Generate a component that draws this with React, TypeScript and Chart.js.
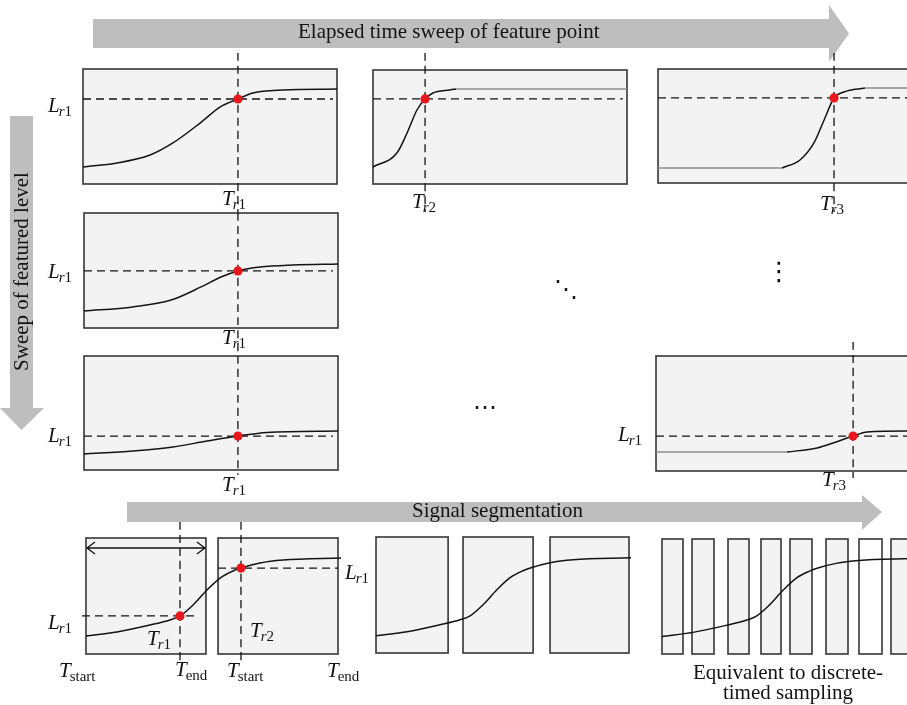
import React, { useEffect, useRef } from "react";
import { Chart, registerables } from "chart.js";
Chart.register(...registerables);

const FONT = '"Liberation Serif", "Times New Roman", Times, serif';
const INK = "#141414";
const GREY_LINE = "#8e8e8e";
const RED = "#e8171d";
const PANEL_FILL = "#f2f3f2";
const PANEL_EDGE = "#363636";
const ARROW_FILL = "#bebebe";

// ================= DATA (time / level in % of each panel frame) =================
// Row 1 — elapsed-time sweep
const P1_T = [0, 13.4, 26.4, 35.4, 46.1, 53.9, 61, 66.9, 78.7, 100];
const P1_L = [14.8, 18.3, 25.2, 35.7, 53.0, 66.9, 73.9, 79.1, 81.7, 82.6];
const P1_MARK = [61, 73.9];

const P2_T = [0, 9.4, 13.4, 17.3, 20.5, 23.6, 30.3, 32.7];
const P2_L = [14.9, 27.2, 44.7, 64.9, 74.6, 79.8, 82.5, 83.3];
const P2_GREY_T = [32.7, 100];
const P2_GREY_L = [83.3, 83.3];
const P2_MARK = [20.5, 74.6];

const P3_GREY_LO_T = [0, 48.8];
const P3_GREY_LO_L = [13.2, 13.2];
const P3_T = [48.8, 55.9, 61.4, 65.4, 69.3, 73.2, 81.5];
const P3_L = [13.2, 20.2, 35.1, 55.3, 74.6, 79.8, 83.3];
const P3_GREY_HI_T = [81.5, 100];
const P3_GREY_HI_L = [83.3, 83.3];
const P3_MARK = [69.3, 74.6];

// Column 1 — featured-level sweep
const P4_T = [0, 19.3, 34.3, 46.1, 53.9, 60.6, 69.3, 82.3, 100];
const P4_L = [14.8, 18.3, 24.3, 35.7, 44.3, 49.6, 53.0, 54.8, 55.7];
const P4_MARK = [60.6, 49.6];

const P5_T = [0, 19.3, 35, 48.4, 60.6, 72, 100];
const P5_L = [14.0, 16.7, 20.2, 25.4, 29.8, 33.0, 34.2];
const P5_MARK = [60.6, 29.8];

const P6_GREY_T = [0, 51.6];
const P6_GREY_L = [16.5, 16.5];
const P6_T = [51.6, 63.4, 69.7, 77.6, 83.1, 98.8, 100];
const P6_L = [16.5, 20, 24.3, 30.4, 33.9, 34.8, 34.8];
const P6_MARK = [77.6, 30.4];

// Row 4 — signal segmentation
const SEG_T = [0, 12.3, 25.4, 33.3, 37.3, 42.5, 48, 53.2, 58.3, 61.5, 69, 78.2, 101.2];
const SEG_L = [15.5, 19, 25, 29.3, 32.8, 42.2, 55.2, 65.5, 71.6, 74.1, 78.4, 81, 82.8];
const SEG_WINDOWS = [[0, 47.6], [52.4, 100]];
const SEG_MARK_1 = [37.3, 32.8];
const SEG_MARK_2 = [61.5, 74.1];

const THREE_T = [0, 12.3, 25.3, 33.2, 37.2, 42.3, 47.8, 53, 58.1, 61.3, 68.8, 77.9, 100.8];
const THREE_L = [14.9, 18.3, 24.3, 28.6, 32.1, 41.6, 54.5, 64.9, 70.9, 73.5, 77.8, 80.4, 82.1];
const THREE_WINDOWS = [[0, 28.5], [34.4, 62.1], [68.8, 100]];

const DISC_T = [0, 12.4, 25.6, 33.6, 37.6, 42.8, 48.4, 53.6, 58.8, 62, 69.6, 78.8, 100];
const DISC_L = [15.2, 18.8, 24.9, 29.3, 32.7, 42.3, 55.4, 65.8, 71.9, 74.5, 78.8, 81.4, 83.0];
const DISC_WINDOWS = [[0, 8.4], [12, 20.8], [26.4, 34.8], [39.6, 47.6], [51.2, 60], [65.6, 74.4], [78.8, 88], [91.6, 100]];
const DISC_WHITE = [6];

// Text
const TITLE_TOP = "Elapsed time sweep of feature point";
const TITLE_LEFT = "Sweep of featured level";
const TITLE_BOTTOM = "Signal segmentation";
const NOTE_LINES = ["Equivalent to discrete-", "timed sampling"];

// ================= LAYOUT (page pixels) =================
const W = 907;
const H = 705;
const FR = {
  p1: [83, 69, 254, 115],
  p2: [373, 70, 254, 114],
  p3: [658, 69, 254, 114],
  p4: [84, 213, 254, 115],
  p5: [84, 356, 254, 114],
  p6: [656, 356, 254, 115],
  seg: [86, 538, 252, 116],
  three: [376, 537, 253, 116],
  disc: [662, 539, 250, 115],
};
const ARROWS = [
  { dir: "h", a0: 93, a1: 829, b0: 19, b1: 48, h0: 5, h1: 62, tip: 849 },
  { dir: "h", a0: 127, a1: 862, b0: 502, b1: 522, h0: 495, h1: 530, tip: 882 },
  { dir: "v", a0: 116, a1: 408, b0: 10, b1: 33, h0: 0, h1: 44, tip: 430 },
];

type Series = { t: number[]; l: number[]; style: "ink" | "grey" | "dash" };
type Cfg = {
  frame: number[];
  pad: number[];
  windows: number[][];
  white?: number[];
  series: Series[];
  dots: number[][];
  span?: number[];
};

const vline = (t: number, top: number, bot: number): Series => ({ t: [t, t], l: [top, bot], style: "dash" });
const hline = (l: number, a: number, b: number): Series => ({ t: [a, b], l: [l, l], style: "dash" });
const ink = (t: number[], l: number[]): Series => ({ t, l, style: "ink" });
const grey = (t: number[], l: number[]): Series => ({ t, l, style: "grey" });

const PAD = [10, 20, 10, 34];
const FULL = [[0, 100]];

const PANELS: Cfg[] = [
  {
    frame: FR.p1, pad: PAD, windows: FULL, dots: [P1_MARK],
    series: [ink(P1_T, P1_L), vline(P1_MARK[0], 114, -25.2), hline(P1_MARK[1], 0, 98.4)],
  },
  {
    frame: FR.p2, pad: PAD, windows: FULL, dots: [P2_MARK],
    series: [ink(P2_T, P2_L), grey(P2_GREY_T, P2_GREY_L), vline(P2_MARK[0], 114.9, -24.6), hline(P2_MARK[1], 0, 98.4)],
  },
  {
    frame: FR.p3, pad: PAD, windows: FULL, dots: [P3_MARK],
    series: [grey(P3_GREY_LO_T, P3_GREY_LO_L), ink(P3_T, P3_L), grey(P3_GREY_HI_T, P3_GREY_HI_L), vline(P3_MARK[0], 114, -25.4), hline(P3_MARK[1], 0, 100)],
  },
  {
    frame: FR.p4, pad: PAD, windows: FULL, dots: [P4_MARK],
    series: [ink(P4_T, P4_L), vline(P4_MARK[0], 100, -24.3), hline(P4_MARK[1], 0, 98)],
  },
  {
    frame: FR.p5, pad: PAD, windows: FULL, dots: [P5_MARK],
    series: [ink(P5_T, P5_L), vline(P5_MARK[0], 100, -4.4), hline(P5_MARK[1], 0, 98)],
  },
  {
    frame: FR.p6, pad: PAD, windows: FULL, dots: [P6_MARK],
    series: [grey(P6_GREY_T, P6_GREY_L), ink(P6_T, P6_L), vline(P6_MARK[0], 112.2, -6.1), hline(P6_MARK[1], 0, 100)],
  },
  {
    frame: FR.seg, pad: [12, 20, 12, 16], windows: SEG_WINDOWS, dots: [SEG_MARK_1, SEG_MARK_2],
    series: [
      ink(SEG_T, SEG_L),
      vline(SEG_MARK_1[0], 113.8, -9.5),
      vline(SEG_MARK_2[0], 113.8, -9.5),
      hline(SEG_MARK_1[1], -1.6, 44),
      hline(SEG_MARK_2[1], SEG_WINDOWS[1][0], 100),
    ],
    span: [0.4, 47.2, 91.4],
  },
  { frame: FR.three, pad: [6, 6, 6, 6], windows: THREE_WINDOWS, dots: [], series: [ink(THREE_T, THREE_L)] },
  { frame: FR.disc, pad: [6, 6, 6, 6], windows: DISC_WINDOWS, white: DISC_WHITE, dots: [], series: [ink(DISC_T, DISC_L)] },
];

function Panel({ cfg }: { cfg: Cfg }) {
  const ref = useRef<HTMLCanvasElement>(null);
  const [x, y, w, h] = cfg.frame;
  const [pl, pt, pr, pb] = cfg.pad;
  useEffect(() => {
    if (!ref.current) return;
    const datasets: any[] = [];
    if (cfg.dots.length) {
      datasets.push({
        data: cfg.dots.map((d) => ({ x: d[0], y: d[1] })),
        showLine: false,
        pointRadius: 4.6,
        pointBackgroundColor: RED,
        pointBorderWidth: 0,
        clip: false,
        order: 0,
      });
    }
    cfg.series.forEach((s) => {
      datasets.push({
        data: s.t.map((t, i) => ({ x: t, y: s.l[i] })),
        showLine: true,
        pointRadius: 0,
        borderColor: s.style === "grey" ? GREY_LINE : INK,
        borderWidth: s.style === "dash" ? 1.3 : 1.5,
        borderDash: s.style === "dash" ? [8, 5] : [],
        tension: s.style === "ink" ? 0.4 : 0,
        cubicInterpolationMode: "monotone",
        clip: false,
        order: s.style === "dash" ? 2 : 1,
      });
    });
    const framePlugin = {
      id: "frames",
      beforeDatasetsDraw(chart: any) {
        const { ctx, chartArea, scales } = chart;
        ctx.save();
        cfg.windows.forEach((win, i) => {
          const x0 = scales.x.getPixelForValue(win[0]);
          const x1 = scales.x.getPixelForValue(win[1]);
          ctx.fillStyle = cfg.white && cfg.white.includes(i) ? "#ffffff" : PANEL_FILL;
          ctx.fillRect(x0, chartArea.top, x1 - x0, chartArea.bottom - chartArea.top);
          ctx.strokeStyle = PANEL_EDGE;
          ctx.lineWidth = 1.6;
          ctx.strokeRect(x0, chartArea.top, x1 - x0, chartArea.bottom - chartArea.top);
        });
        ctx.restore();
      },
      afterDatasetsDraw(chart: any) {
        if (!cfg.span) return;
        const { ctx, scales } = chart;
        const a = scales.x.getPixelForValue(cfg.span[0]);
        const b = scales.x.getPixelForValue(cfg.span[1]);
        const yy = scales.y.getPixelForValue(cfg.span[2]);
        ctx.save();
        ctx.strokeStyle = INK;
        ctx.lineWidth = 1.3;
        ctx.beginPath();
        ctx.moveTo(a, yy);
        ctx.lineTo(b, yy);
        ctx.moveTo(a + 8, yy - 6);
        ctx.lineTo(a, yy);
        ctx.lineTo(a + 8, yy + 6);
        ctx.moveTo(b - 8, yy - 6);
        ctx.lineTo(b, yy);
        ctx.lineTo(b - 8, yy + 6);
        ctx.stroke();
        ctx.restore();
      },
    };
    const chart = new Chart(ref.current, {
      type: "scatter",
      data: { datasets },
      options: {
        animation: false,
        responsive: false,
        events: [],
        layout: { padding: { left: pl, top: pt, right: pr, bottom: pb } },
        scales: {
          x: { type: "linear", display: false, min: 0, max: 100 },
          y: { type: "linear", display: false, min: 0, max: 100 },
        },
        plugins: { legend: { display: false }, tooltip: { enabled: false } },
      },
      plugins: [framePlugin],
    } as any);
    return () => chart.destroy();
  }, []);
  return (
    <canvas
      ref={ref}
      width={w + pl + pr}
      height={h + pt + pb}
      style={{ position: "absolute", left: x - pl, top: y - pt, width: w + pl + pr, height: h + pt + pb }}
    />
  );
}

function Backdrop() {
  const ref = useRef<HTMLCanvasElement>(null);
  useEffect(() => {
    if (!ref.current) return;
    const arrowPlugin = {
      id: "arrows",
      beforeDraw(chart: any) {
        const ctx = chart.ctx;
        ctx.save();
        ctx.fillStyle = ARROW_FILL;
        ARROWS.forEach((ar) => {
          const m = (ar.b0 + ar.b1) / 2;
          const pts =
            ar.dir === "h"
              ? [[ar.a0, ar.b0], [ar.a1, ar.b0], [ar.a1, ar.h0], [ar.tip, m], [ar.a1, ar.h1], [ar.a1, ar.b1], [ar.a0, ar.b1]]
              : [[ar.b0, ar.a0], [ar.b0, ar.a1], [ar.h0, ar.a1], [m, ar.tip], [ar.h1, ar.a1], [ar.b1, ar.a1], [ar.b1, ar.a0]];
          ctx.beginPath();
          pts.forEach((p, i) => (i ? ctx.lineTo(p[0], p[1]) : ctx.moveTo(p[0], p[1])));
          ctx.closePath();
          ctx.fill();
        });
        ctx.restore();
      },
    };
    const chart = new Chart(ref.current, {
      type: "scatter",
      data: { datasets: [] },
      options: {
        animation: false,
        responsive: false,
        events: [],
        scales: { x: { display: false }, y: { display: false } },
        plugins: { legend: { display: false }, tooltip: { enabled: false } },
      },
      plugins: [arrowPlugin],
    } as any);
    return () => chart.destroy();
  }, []);
  return <canvas ref={ref} width={W} height={H} style={{ position: "absolute", left: 0, top: 0, width: W, height: H }} />;
}

const FS = 21;
const baseTop = (b: number, lh: number, fs: number) => b - ((lh - 1.107 * fs) / 2 + 0.891 * fs);

function Sym({ x, b, main, sub, italicR }: { x: number; b: number; main: string; sub: string; italicR: boolean }) {
  return (
    <div
      style={{
        position: "absolute",
        left: x,
        top: baseTop(b, FS, FS),
        fontFamily: FONT,
        fontSize: FS,
        lineHeight: FS + "px",
        whiteSpace: "nowrap",
        color: INK,
      }}
    >
      <span style={{ fontStyle: "italic" }}>{main}</span>
      <span style={{ fontSize: 15, position: "relative", top: 4, marginLeft: -1 }}>
        {italicR ? (
          <>
            <span style={{ fontStyle: "italic" }}>r</span>
            {sub}
          </>
        ) : (
          sub
        )}
      </span>
    </div>
  );
}

// label text + anchor (left x, baseline y)
const SYMBOLS: [string, string, boolean, number, number][] = [
  ["L", "1", true, 48, 113],
  ["L", "1", true, 48, 279],
  ["L", "1", true, 48, 443],
  ["L", "1", true, 618, 442],
  ["L", "1", true, 48, 630],
  ["L", "1", true, 345, 580],
  ["T", "1", true, 222, 206],
  ["T", "2", true, 412, 209],
  ["T", "3", true, 820, 211],
  ["T", "1", true, 222, 345],
  ["T", "1", true, 222, 492],
  ["T", "3", true, 822, 487],
  ["T", "1", true, 147, 646],
  ["T", "2", true, 250, 638],
  ["T", "start", false, 59, 678],
  ["T", "end", false, 175, 677],
  ["T", "start", false, 227, 678],
  ["T", "end", false, 327, 678],
];

function Text({ x, b, children, w, align }: any) {
  return (
    <div
      style={{
        position: "absolute",
        left: x,
        top: baseTop(b, FS, FS),
        width: w,
        textAlign: align || "left",
        fontFamily: FONT,
        fontSize: FS,
        lineHeight: FS + "px",
        whiteSpace: "nowrap",
        color: INK,
      }}
    >
      {children}
    </div>
  );
}

function Dots({ cx, b, ch, size }: { cx: number; b: number; ch: string; size: number }) {
  return (
    <div
      style={{
        position: "absolute",
        left: cx - 30,
        width: 60,
        textAlign: "center",
        top: baseTop(b, size, size),
        fontFamily: '"DejaVu Sans", sans-serif',
        fontSize: size,
        lineHeight: size + "px",
        color: INK,
      }}
    >
      {ch}
    </div>
  );
}

export default function App() {
  return (
    <div style={{ position: "absolute", left: 0, top: 0, width: W, height: H, overflow: "hidden", background: "#fff" }}>
      <Backdrop />
      {PANELS.map((c, i) => (
        <Panel key={i} cfg={c} />
      ))}
      <Text x={298} b={39}>{TITLE_TOP}</Text>
      <Text x={412} b={518}>{TITLE_BOTTOM}</Text>
      <div
        style={{
          position: "absolute",
          left: 21 - 130,
          top: 271 - FS / 2,
          width: 260,
          height: FS,
          lineHeight: FS + "px",
          textAlign: "center",
          fontFamily: FONT,
          fontSize: FS,
          whiteSpace: "nowrap",
          color: INK,
          transform: "rotate(-90deg)",
        }}
      >
        {TITLE_LEFT}
      </div>
      <Text x={668} b={680} w={240} align="center">{NOTE_LINES[0]}</Text>
      <Text x={668} b={700} w={240} align="center">{NOTE_LINES[1]}</Text>
      {SYMBOLS.map((s, i) => (
        <Sym key={i} main={s[0]} sub={s[1]} italicR={s[2]} x={s[3]} b={s[4]} />
      ))}
      <Dots cx={566} b={297} ch={"\u22F1"} size={24} />
      <Dots cx={779} b={280} ch={"\u22EE"} size={26} />
      <Dots cx={485} b={415} ch={"\u22EF"} size={24} />
    </div>
  );
}
